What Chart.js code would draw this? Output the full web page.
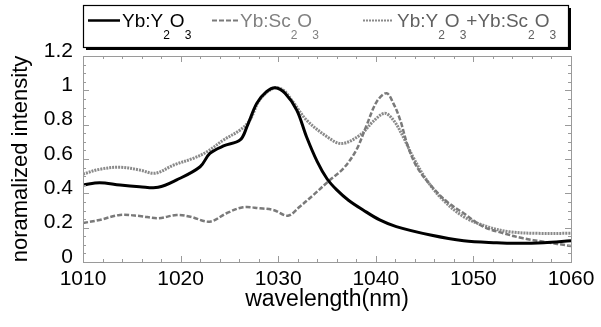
<!DOCTYPE html>
<html>
<head>
<meta charset="utf-8">
<script src="https://cdn.jsdelivr.net/npm/chart.js@4.4.1/dist/chart.umd.min.js"></script>
<style>
  html, body { margin: 0; padding: 0; background: #fff; }
  canvas { display: block; }
</style>
</head>
<body>
<canvas id="spectrum" width="601" height="327"></canvas>
<script>
// emission spectra
const y2o3Wl = [1010, 1011.7, 1013.8, 1015.8, 1017.7, 1019.6, 1022.0, 1023.0, 1024.4, 1026.1, 1026.8, 1027.8, 1028.8, 1029.7, 1030.7, 1031.9, 1032.9, 1034.0, 1035.0, 1036.0, 1037.2, 1038.7, 1040.4, 1042.1, 1045.6, 1049.0, 1052.4, 1054.4, 1057.2, 1060];
const y2o3Val = [0.448, 0.462, 0.448, 0.439, 0.435, 0.478, 0.555, 0.633, 0.676, 0.711, 0.788, 0.924, 0.992, 1.015, 0.983, 0.885, 0.730, 0.585, 0.485, 0.420, 0.360, 0.303, 0.245, 0.206, 0.157, 0.124, 0.112, 0.109, 0.112, 0.124];

const sc2o3Wl = [1010, 1011.7, 1013.8, 1015.8, 1017.7, 1019.6, 1021.0, 1023.0, 1024.7, 1026.4, 1028.1, 1029.5, 1031.0, 1032.2, 1033.6, 1035.3, 1036.7, 1038.0, 1039.0, 1040.1, 1041.1, 1041.8, 1042.5, 1043.3, 1044.2, 1045.6, 1047.3, 1049.0, 1051.0, 1053.1, 1055.1, 1057.2, 1060];
const sc2o3Val = [0.227, 0.245, 0.274, 0.268, 0.255, 0.274, 0.264, 0.235, 0.284, 0.319, 0.313, 0.303, 0.270, 0.322, 0.390, 0.478, 0.546, 0.652, 0.788, 0.934, 0.983, 0.924, 0.827, 0.672, 0.555, 0.448, 0.351, 0.284, 0.206, 0.167, 0.138, 0.118, 0.093];

const mixWl = [1010, 1011.7, 1013.8, 1015.8, 1017.4, 1019.3, 1021.3, 1022.7, 1024.4, 1026.1, 1027.1, 1028.1, 1029.5, 1030.5, 1031.5, 1032.9, 1035.0, 1036.5, 1038.4, 1039.7, 1040.9, 1041.8, 1042.8, 1043.8, 1045.2, 1046.9, 1049.0, 1051.4, 1053.7, 1056.5, 1060];
const mixVal = [0.512, 0.540, 0.552, 0.536, 0.517, 0.565, 0.604, 0.642, 0.711, 0.769, 0.827, 0.944, 1.012, 1.002, 0.934, 0.827, 0.730, 0.690, 0.740, 0.817, 0.866, 0.827, 0.730, 0.613, 0.478, 0.361, 0.264, 0.206, 0.176, 0.167, 0.167];

const seriesNames = ['Yb:Y₂O₃', 'Yb:Sc₂O₃', 'Yb:Y₂O₃+Yb:Sc₂O₃'];
const yTicks = [0, 0.2, 0.4, 0.6, 0.8, 1, 1.2];

const FONT = 'Liberation Sans, Arial, sans-serif';
const frameColor = '#9a9a9a';

function toPoints(xs, ys) {
    return xs.map((x, i) => ({x: x, y: ys[i]}));
}

// draw "Yb:Y₂O₃" with real subscripts dropped below the baseline
const SUBS = '₀₁₂₃₄₅₆₇₈₉';
function drawRich(ctx, text, x, y, size) {
    for (const ch of text) {
        const k = SUBS.indexOf(ch);
        if (k >= 0) {
            ctx.font = Math.round(size * 0.62) + 'px ' + FONT;
            ctx.fillText(String(k), x, y + 12);
            x += ctx.measureText(String(k)).width;
        } else {
            ctx.font = size + 'px ' + FONT;
            ctx.fillText(ch, x, y);
            x += ctx.measureText(ch).width;
        }
    }
}

// box legend with a drop shadow, like the original
const boxLegend = {
    id: 'boxLegend',
    afterDraw(chart) {
        const ctx = chart.ctx;
        const bx = 83, by = 5, bw = 485, bh = 42;
        ctx.save();
        ctx.fillStyle = '#000';
        ctx.fillRect(bx + 3, by + bh, bw, 3);
        ctx.fillRect(bx + bw, by + 3, 3, bh);
        ctx.fillStyle = '#fff';
        ctx.fillRect(bx, by, bw, bh);
        ctx.strokeStyle = '#000';
        ctx.lineWidth = 1.2;
        ctx.strokeRect(bx + 0.5, by + 0.5, bw, bh);

        const slots = [[88, 120, 122], [212, 238, 240], [363, 393, 397]];
        const textColors = ['#000', '#808080', '#606060'];
        ctx.textBaseline = 'alphabetic';
        chart.data.datasets.forEach((ds, i) => {
            const s = slots[i];
            ctx.strokeStyle = ds.borderColor;
            ctx.lineWidth = i === 0 ? 2.5 : 2;
            ctx.setLineDash(ds.borderDash || []);
            ctx.beginPath();
            ctx.moveTo(s[0], 20.5);
            ctx.lineTo(s[1], 20.5);
            ctx.stroke();
            ctx.setLineDash([]);
            ctx.fillStyle = textColors[i];
            drawRich(ctx, ds.label, s[2], 27, 19);
        });
        ctx.restore();
    }
};

// closed frame with inward minor/major ticks on all four sides
const frameTicks = {
    id: 'frameTicks',
    afterDraw(chart) {
        const ctx = chart.ctx;
        const a = chart.chartArea;
        const xs = chart.scales.x, ys = chart.scales.y;
        ctx.save();
        ctx.strokeStyle = frameColor;
        ctx.lineWidth = 1;
        ctx.strokeRect(a.left + 0.5, a.top + 0.5, a.right - a.left, a.bottom - a.top);
        ctx.beginPath();
        for (let v = 1010; v <= 1060; v += 2) {
            const px = Math.round(xs.getPixelForValue(v)) + 0.5;
            const len = v % 10 === 0 ? 6 : 3;
            ctx.moveTo(px, a.bottom); ctx.lineTo(px, a.bottom - len);
            ctx.moveTo(px, a.top); ctx.lineTo(px, a.top + len);
        }
        for (let k = 0; k <= 24; k++) {
            const py = Math.round(ys.getPixelForValue(k * 0.05)) + 0.5;
            const len = k % 4 === 0 ? 6 : 3;
            ctx.moveTo(a.left, py); ctx.lineTo(a.left + len, py);
            ctx.moveTo(a.right, py); ctx.lineTo(a.right - len, py);
        }
        ctx.stroke();
        ctx.restore();
    }
};

new Chart(document.getElementById('spectrum'), {
    type: 'line',
    data: {
        datasets: [{
            label: seriesNames[0],
            data: toPoints(y2o3Wl, y2o3Val),
            borderColor: '#000',
            borderWidth: 3,
            pointRadius: 0,
            tension: 0.35
        }, {
            label: seriesNames[1],
            data: toPoints(sc2o3Wl, sc2o3Val),
            borderColor: '#7a7a7a',
            borderWidth: 2.5,
            borderDash: [5, 2],
            pointRadius: 0,
            tension: 0.35
        }, {
            label: seriesNames[2],
            data: toPoints(mixWl, mixVal),
            borderColor: '#8a8a8a',
            borderWidth: 3,
            borderDash: [2, 1],
            pointRadius: 0,
            tension: 0.35
        }]
    },
    options: {
        responsive: false,
        animation: false,
        devicePixelRatio: 1,
        layout: {padding: {top: 56, right: 30, left: 0, bottom: 0}},
        plugins: {
            legend: {display: false},
            tooltip: {enabled: false}
        },
        scales: {
            x: {
                type: 'linear',
                min: 1010,
                max: 1060,
                afterFit: s => { s.height = 65; },
                grid: {display: false, drawTicks: false},
                border: {display: false},
                ticks: {
                    stepSize: 10,
                    padding: 5,
                    maxRotation: 0,
                    color: '#000',
                    font: {family: FONT, size: 21},
                    callback: v => String(v)
                },
                title: {
                    display: true,
                    text: 'wavelength(nm)',
                    color: '#000',
                    font: {family: FONT, size: 23},
                    padding: {top: 0, bottom: 14}
                }
            },
            y: {
                min: 0,
                max: 1.2,
                afterFit: s => { s.width = 83; },
                afterBuildTicks: s => { s.ticks = yTicks.map(v => ({value: v})); },
                grid: {display: false, drawTicks: false},
                border: {display: false},
                ticks: {
                    padding: 10,
                    labelOffset: -5,
                    color: '#000',
                    font: {family: FONT, size: 21},
                    callback: v => String(v)
                },
                title: {
                    display: true,
                    text: 'noramalized intensity',
                    color: '#000',
                    font: {family: FONT, size: 22},
                    padding: {top: 8, bottom: 0}
                }
            }
        }
    },
    plugins: [frameTicks, boxLegend]
});
</script>
</body>
</html>
